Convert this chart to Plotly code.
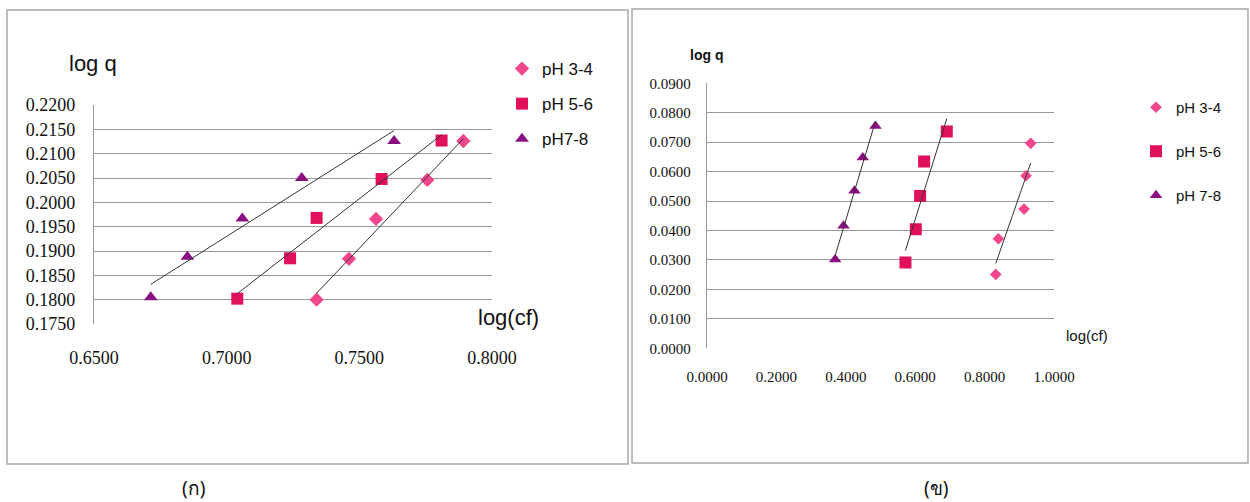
import numpy as np
import plotly.graph_objects as go

W, H = 1250, 502

# ---------------- data: chart (ก) ----------------
a_series = ["pH 3-4", "pH 5-6", "pH7-8"]
a_x_ph34 = [0.7339, 0.7461, 0.7563, 0.7756, 0.7892]
a_y_ph34 = [0.1800, 0.1884, 0.1966, 0.2046, 0.2126]
a_x_ph56 = [0.7040, 0.7239, 0.7339, 0.7584, 0.7810]
a_y_ph56 = [0.1802, 0.1885, 0.1968, 0.2048, 0.2127]
a_x_ph78 = [0.6714, 0.6852, 0.7059, 0.7283, 0.7631]
a_y_ph78 = [0.1805, 0.1888, 0.1967, 0.2050, 0.2126]

# ---------------- data: chart (ข) ----------------
b_series = ["pH 3-4", "pH 5-6", "pH 7-8"]
b_x_ph34 = [0.8321, 0.8397, 0.9136, 0.9194, 0.9329]
b_y_ph34 = [0.0251, 0.0372, 0.0473, 0.0586, 0.0696]
b_x_ph56 = [0.5719, 0.6017, 0.6142, 0.6257, 0.6910]
b_y_ph56 = [0.0291, 0.0404, 0.0517, 0.0634, 0.0736]
b_x_ph78 = [0.3694, 0.3934, 0.4250, 0.4490, 0.4855]
b_y_ph78 = [0.0302, 0.0416, 0.0535, 0.0648, 0.0755]

panel_labels = ["(ก)", "(ข)"]

# ---------------- styles ----------------
C_PINK = "#F0468C"
C_CRIMSON = "#E0105C"
C_PURPLE = "#8B1082"
GRID = "#999999"
SERIF = "Liberation Serif, Times New Roman, serif"
SANS = "Liberation Sans Narrow, Arial Narrow, Liberation Sans, Arial, sans-serif"


def px(x):
    return x / W


def py(y):
    return 1 - y / H


fig = go.Figure()

def add_series(xs, ys, name, color, symbol, size, xa, ya, legend, group):
    fig.add_trace(go.Scatter(
        x=xs, y=ys, mode="markers", name=name,
        marker=dict(color=color, symbol=symbol, size=size, line=dict(width=0)),
        xaxis=xa, yaxis=ya, legend=legend, legendgroup=group, showlegend=True,
    ))
    k, b = np.polyfit(xs, ys, 1)
    xl = [min(xs), max(xs)]
    fig.add_trace(go.Scatter(
        x=xl, y=[k * v + b for v in xl], mode="lines",
        line=dict(color="#333333", width=1), showlegend=False,
        xaxis=xa, yaxis=ya, hoverinfo="skip",
    ))

add_series(a_x_ph34, a_y_ph34, a_series[0], C_PINK, "diamond", 11, "x", "y", "legend", "a1")
add_series(a_x_ph56, a_y_ph56, a_series[1], C_CRIMSON, "square", 12, "x", "y", "legend", "a2")
add_series(a_x_ph78, a_y_ph78, a_series[2], C_PURPLE, "triangle-up", 12, "x", "y", "legend", "a3")

add_series(b_x_ph34, b_y_ph34, b_series[0], C_PINK, "diamond", 9, "x2", "y2", "legend2", "b1")
add_series(b_x_ph56, b_y_ph56, b_series[1], C_CRIMSON, "square", 12, "x2", "y2", "legend2", "b2")
add_series(b_x_ph78, b_y_ph78, b_series[2], C_PURPLE, "triangle-up", 11, "x2", "y2", "legend2", "b3")

axis_common = dict(ticks="", zeroline=False, fixedrange=True, automargin=False)

fig.update_layout(
    template="none",
    width=W, height=H,
    margin=dict(l=0, r=0, t=0, b=0, autoexpand=False),
    paper_bgcolor="white", plot_bgcolor="white",
    showlegend=True,
    xaxis=dict(domain=[px(94), px(492)], range=[0.65, 0.80], dtick=0.05, tick0=0.65,
               tickformat=".4f", showgrid=False, showline=False, anchor="y",
               tickfont=dict(family=SERIF, size=18, color="#111"),
               ticklabelstandoff=21, **axis_common),
    yaxis=dict(domain=[py(324), py(105)], range=[0.175, 0.22], dtick=0.005, tick0=0.175,
               tickformat=".4f", showgrid=True, gridcolor=GRID, gridwidth=1.3,
               showline=True, linecolor=GRID, linewidth=1.3, anchor="x",
               tickfont=dict(family=SERIF, size=18, color="#111"),
               ticklabelstandoff=14, **axis_common),
    xaxis2=dict(domain=[px(707), px(1054)], range=[0, 1.0], dtick=0.2, tick0=0,
                tickformat=".4f", showgrid=False, showline=False, anchor="y2",
                tickfont=dict(family=SERIF, size=15, color="#111"),
                ticklabelstandoff=18, **axis_common),
    yaxis2=dict(domain=[py(348.3), py(83.3)], range=[0, 0.09], dtick=0.01, tick0=0,
                tickformat=".4f", showgrid=True, gridcolor=GRID, gridwidth=1.3,
                showline=True, linecolor=GRID, linewidth=1.3, anchor="x2",
                tickfont=dict(family=SERIF, size=15, color="#111"),
                ticklabelstandoff=12, **axis_common),
    legend=dict(x=px(502), y=py(51), xanchor="left", yanchor="top",
                font=dict(family=SANS, size=17, color="#111"),
                tracegroupgap=10, bgcolor="rgba(0,0,0,0)", borderwidth=0),
    legend2=dict(x=px(1136), y=py(91), xanchor="left", yanchor="top",
                 font=dict(family=SANS, size=15, color="#111"),
                 tracegroupgap=21.5, bgcolor="rgba(0,0,0,0)", borderwidth=0),
    shapes=[
        dict(type="rect", xref="paper", yref="paper", x0=px(7), x1=px(628),
             y0=py(464), y1=py(10), line=dict(color="#a8a8a8", width=1.5)),
        dict(type="rect", xref="paper", yref="paper", x0=px(632), x1=px(1248),
             y0=py(463), y1=py(9), line=dict(color="#a8a8a8", width=1.5)),
    ],
    annotations=[
        dict(text="log q", xref="paper", yref="paper", x=px(67), y=py(63),
             xanchor="left", yanchor="middle", showarrow=False,
             font=dict(family=SANS, size=22, color="#111")),
        dict(text="log(cf)", xref="paper", yref="paper", x=px(476), y=py(317),
             xanchor="left", yanchor="middle", showarrow=False,
             font=dict(family=SANS, size=22, color="#111")),
        dict(text="<b>log q</b>", xref="paper", yref="paper", x=px(688), y=py(55),
             xanchor="left", yanchor="middle", showarrow=False,
             font=dict(family=SANS, size=14, color="#111")),
        dict(text="log(cf)", xref="paper", yref="paper", x=px(1064), y=py(335),
             xanchor="left", yanchor="middle", showarrow=False,
             font=dict(family=SANS, size=15, color="#111")),
        dict(text=panel_labels[0], xref="paper", yref="paper", x=px(193), y=py(488),
             xanchor="center", yanchor="middle", showarrow=False,
             font=dict(family="Noto Sans, DejaVu Sans, sans-serif", size=19, color="#111")),
        dict(text=panel_labels[1], xref="paper", yref="paper", x=px(936), y=py(488),
             xanchor="center", yanchor="middle", showarrow=False,
             font=dict(family="Noto Sans, DejaVu Sans, sans-serif", size=19, color="#111")),
    ],
)

fig.write_html("out.html")
